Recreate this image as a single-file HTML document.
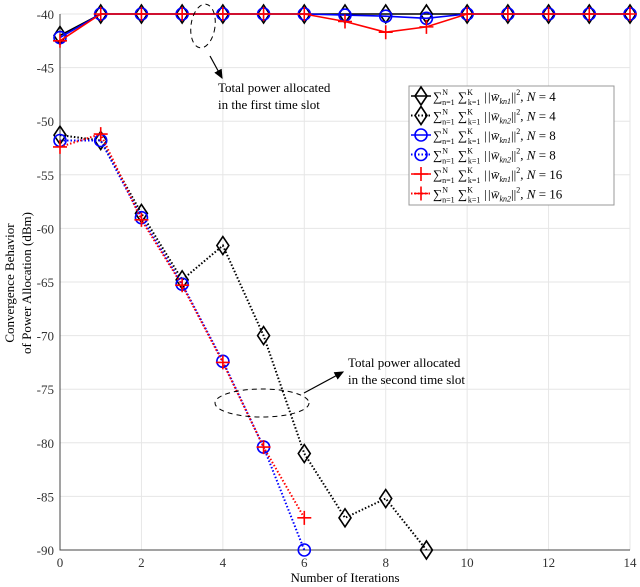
<!DOCTYPE html>
<html><head><meta charset="utf-8"><style>
body{margin:0;background:#fff}
svg{display:block;font-family:"Liberation Serif",serif}
</style></head><body>
<svg id="c" width="640" height="587" viewBox="0 0 640 587">
<defs><marker id="ah" markerWidth="8" markerHeight="8" refX="7" refY="4" orient="auto"><path d="M0,0.5 L8,4 L0,7.5 z" fill="#000"/></marker></defs>
<g id="grid"></g>
<g id="axes"></g>
<g id="series"></g>
<g>
<ellipse cx="203" cy="26" rx="12" ry="22" fill="none" stroke="#000" stroke-dasharray="5,4" transform="rotate(8 203 26)"/>
<line x1="210" y1="56" x2="222" y2="78" stroke="#000" stroke-width="1.2" marker-end="url(#ah)"/>
<text x="218" y="92" font-size="13">Total power allocated</text>
<text x="218" y="109" font-size="13">in the first time slot</text>
</g>
<g>
<ellipse cx="262" cy="403" rx="47" ry="14" fill="none" stroke="#000" stroke-dasharray="5,4"/>
<line x1="304" y1="393" x2="343" y2="372" stroke="#000" stroke-width="1.2" marker-end="url(#ah)"/>
<text x="348" y="367" font-size="13">Total power allocated</text>
<text x="348" y="384" font-size="13">in the second time slot</text>
</g>
<g id="legend"></g>
<text x="345" y="582" font-size="13" text-anchor="middle">Number of Iterations</text>
<text transform="translate(14,283) rotate(-90)" font-size="13" text-anchor="middle">Convergence Behavior</text>
<text transform="translate(31,283) rotate(-90)" font-size="13" text-anchor="middle">of Power Allocation (dBm)</text>
</svg>
<script>
const xTicks=[0,2,4,6,8,10,12,14];
const yTicks=[-40,-45,-50,-55,-60,-65,-70,-75,-80,-85,-90];
const iters1=[0,1,2,3,4,5,6,7,8,9,10,11,12,13,14];
const n4slot1=[-42,-40,-40,-40,-40,-40,-40,-40,-40,-40,-40,-40,-40,-40,-40];
const n8slot1=[-42.2,-40,-40,-40,-40,-40,-40,-40.1,-40.2,-40.4,-40,-40,-40,-40,-40];
const n16slot1=[-42.5,-40,-40,-40,-40,-40,-40,-40.7,-41.7,-41.2,-40,-40,-40,-40,-40];
const itersN4=[0,1,2,3,4,5,6,7,8,9];
const n4slot2=[-51.3,-51.8,-58.6,-64.8,-61.6,-70,-81,-87,-85.2,-90];
const itersN8=[0,1,2,3,4,5,6];
const n8slot2=[-51.8,-51.8,-59,-65.2,-72.4,-80.4,-90];
const n16slot2=[-52.4,-51.2,-59.2,-65.3,-72.5,-80.4,-87];

const NS='http://www.w3.org/2000/svg';
const X0=60,X1=630,Y0=14,Y1=550;
const sx=v=>X0+(v-0)/14*(X1-X0);
const sy=v=>Y0+(-40-v)/50*(Y1-Y0);
function mk(tag,at,parent){const e=document.createElementNS(NS,tag);for(const k in at)e.setAttribute(k,at[k]);parent.appendChild(e);return e;}
const grid=document.getElementById('grid'),axes=document.getElementById('axes'),ser=document.getElementById('series'),leg=document.getElementById('legend');
xTicks.forEach(t=>{
 const g=mk('line',{x1:sx(t),x2:sx(t),y1:Y0,y2:Y1,stroke:'#e6e6e6'},grid);
 
 
 const tx=mk('text',{x:sx(t),y:Y1+17,'font-size':13,'text-anchor':'middle',fill:'#333'},axes);
 tx.textContent=t;
 
 
});
yTicks.forEach(t=>{
 const g=mk('line',{x1:X0,x2:X1,y1:sy(t),y2:sy(t),stroke:'#e6e6e6'},grid);
 
 
 const tx=mk('text',{x:X0-6,y:sy(t)+5,'font-size':13,'text-anchor':'end',fill:'#333'},axes);
 tx.textContent=t;
 
 
});
const ax=mk('path',{d:`M${X0},${Y0} V${Y1} H${X1}`,fill:'none',stroke:'#444'},axes);



function marker(type,x,y,color,parent){
 if(type==='d') return mk('path',{d:`M${x},${y-9} L${x+6},${y} L${x},${y+9} L${x-6},${y} Z`,fill:'none',stroke:color,'stroke-width':1.6},parent);
 if(type==='o') return mk('circle',{cx:x,cy:y,r:6,fill:'none',stroke:color,'stroke-width':1.6},parent);
 return mk('path',{d:`M${x-7},${y} H${x+7} M${x},${y-7} V${y+7}`,stroke:color,'stroke-width':1.6},parent);
}
function series(xs,ys,color,dash,type,name){
 const g=mk('g',{},ser);
 
 
 const pl=mk('polyline',{points:xs.map((x,i)=>sx(x)+','+sy(ys[i])).join(' '),fill:'none',stroke:color,'stroke-width':dash?2:1.6,'stroke-dasharray':dash?'1.5,2':'none'},g);
 
 
 xs.forEach((x,i)=>{const m=marker(type,sx(x),sy(ys[i]),color,g);
  
  });
}
series(itersN4,n4slot2,'#000',true,'d','n4-slot2');
series(itersN8,n8slot2,'#00f',true,'o','n8-slot2');
series(itersN8,n16slot2,'#f00',true,'+','n16-slot2');
series(iters1,n4slot1,'#000',false,'d','n4-slot1');
series(iters1,n8slot1,'#00f',false,'o','n8-slot1');
series(iters1,n16slot1,'#f00',false,'+','n16-slot1');

const lb=mk('rect',{x:409,y:86,width:205,height:119,fill:'#fff',stroke:'#999'},leg);


const items=[['#000',false,'d','kn1','4'],['#000',true,'d','kn2','4'],['#00f',false,'o','kn1','8'],['#00f',true,'o','kn2','8'],['#f00',false,'+','kn1','16'],['#f00',true,'+','kn2','16']];
items.forEach((it,i)=>{
 const y=96+i*19.5;
 const g=mk('g',{},leg);
 
 
 mk('line',{x1:411,x2:431,y1:y,y2:y,stroke:it[0],'stroke-width':it[1]?2:1.6,'stroke-dasharray':it[1]?'1.5,2':'none'},g);
 marker(it[2],421,y,it[0],g);
 const t=mk('text',{x:433,y:y+5,'font-size':13},g);
 t.innerHTML=`∑<tspan font-size="8" dy="-6">N</tspan><tspan font-size="8" dx="-6" dy="10">n=1</tspan><tspan dy="-4"> ∑</tspan><tspan font-size="8" dy="-6">K</tspan><tspan font-size="8" dx="-5" dy="10">k=1</tspan><tspan dy="-4" font-style="italic"> ||w̄</tspan><tspan font-size="8" font-style="italic" dy="3">${it[3]}</tspan><tspan dy="-3">||</tspan><tspan font-size="8" dy="-6">2</tspan><tspan dy="6">, </tspan><tspan font-style="italic">N</tspan> = ${it[4]}`;
});
</script>
</body></html>
